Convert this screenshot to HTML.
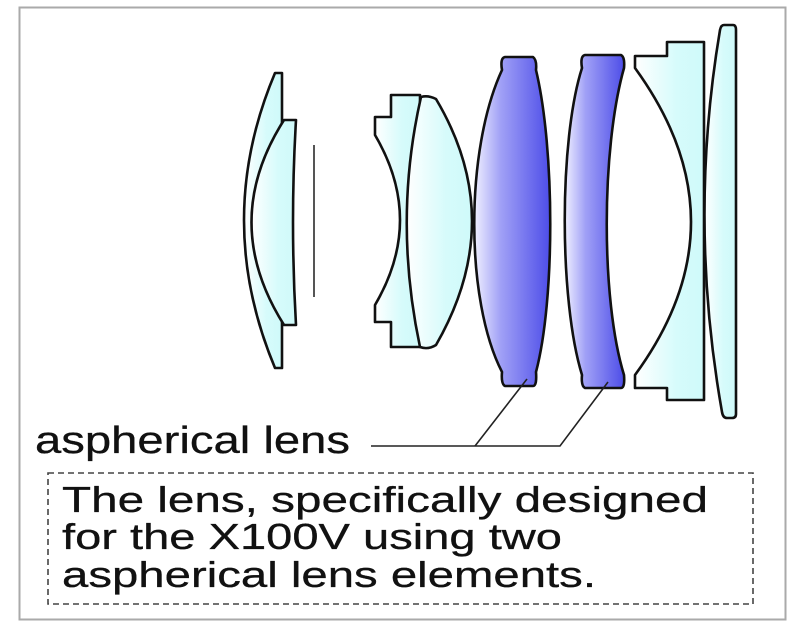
<!DOCTYPE html>
<html><head><meta charset="utf-8"><style>
html,body{margin:0;padding:0;background:#fff;width:800px;height:634px;overflow:hidden}
</style></head><body>
<svg width="800" height="634" viewBox="0 0 800 634" xmlns="http://www.w3.org/2000/svg">
<defs>
<linearGradient id="cy" x1="0" x2="1" y1="0" y2="0">
<stop offset="0" stop-color="#ffffff"/><stop offset="0.6" stop-color="#d6fbfb"/><stop offset="1" stop-color="#cffafa"/>
</linearGradient>
<linearGradient id="bl" x1="0" x2="1" y1="0" y2="0">
<stop offset="0" stop-color="#f0f0ff"/><stop offset="0.35" stop-color="#a0a0f6"/><stop offset="1" stop-color="#4d4de8"/>
</linearGradient>
</defs>
<rect x="19.5" y="7.5" width="766" height="612" fill="#fff" stroke="#aaa" stroke-width="2"/>
<g stroke="#111" stroke-width="2.6" stroke-linejoin="round">
<path d="M275,73 L282,73 L282,368 L275,368 Q213,220 275,73 Z" fill="url(#cy)"/>
<path d="M284,120 L296,120 Q290,222 296,325 L284,325 Q219,222 284,120 Z" fill="url(#cy)"/>
<path d="M391,95 L420,95 L420,347 L391,347 L391,322 L375,322 L375,305 Q425,220 375,135 L375,117 L391,117 Z" fill="url(#cy)"/>
<path d="M421,97 Q428,95 436,99 Q508,220 436,345 Q428,350 420,347 Q393,220 421,97 Z" fill="url(#cy)"/>
<path d="M505,57 L533,57 Q537,60 536,70 C555,150 555,300 536,372 Q537,386 533,386 L505,386 Q501,384 502,372 C465,300 465,150 502,70 Q500,58 505,57 Z" fill="url(#bl)"/>
<path d="M585,55 L621,55 Q625,57 624,68 C601,150 601,300 624,375 Q625,388 621,388 L585,388 Q581,386 582,375 C559,300 559,140 582,68 Q580,56 585,55 Z" fill="url(#bl)"/>
<path d="M635,56 L667,56 L667,42 L704,42 L704,400 L667,400 L667,388 L635,388 L635,375 Q747,222 635,68 Z" fill="url(#cy)"/>
<path d="M724,25 L733,25 Q736,25 736,30 L736,414 Q736,418 732,418 L727,418 Q723,418 722,412 Q688,220 720,30 Q721,25 724,25 Z" fill="url(#cy)"/>
</g>
<line x1="314" y1="145" x2="314" y2="297" stroke="#555" stroke-width="2"/>
<g stroke="#222" stroke-width="1.6" fill="none">
<polyline points="371,446 560,446 608,382"/>
<line x1="475" y1="446" x2="527" y2="379"/>
</g>
<rect x="48" y="473" width="705" height="131" fill="none" stroke="#444" stroke-width="1.6" stroke-dasharray="6,4"/>
<g font-family="'Liberation Sans', Arial, sans-serif" fill="#111" stroke="#111" stroke-width="0.3">
<text x="35" y="453" font-size="38" textLength="315" lengthAdjust="spacingAndGlyphs">aspherical lens</text>
<text x="62" y="512" font-size="36" textLength="646" lengthAdjust="spacingAndGlyphs">The lens, specifically designed</text>
<text x="62" y="549" font-size="36" textLength="500" lengthAdjust="spacingAndGlyphs">for the X100V using two</text>
<text x="62" y="587" font-size="36" textLength="534" lengthAdjust="spacingAndGlyphs">aspherical lens elements.</text>
</g>
</svg>
</body></html>
